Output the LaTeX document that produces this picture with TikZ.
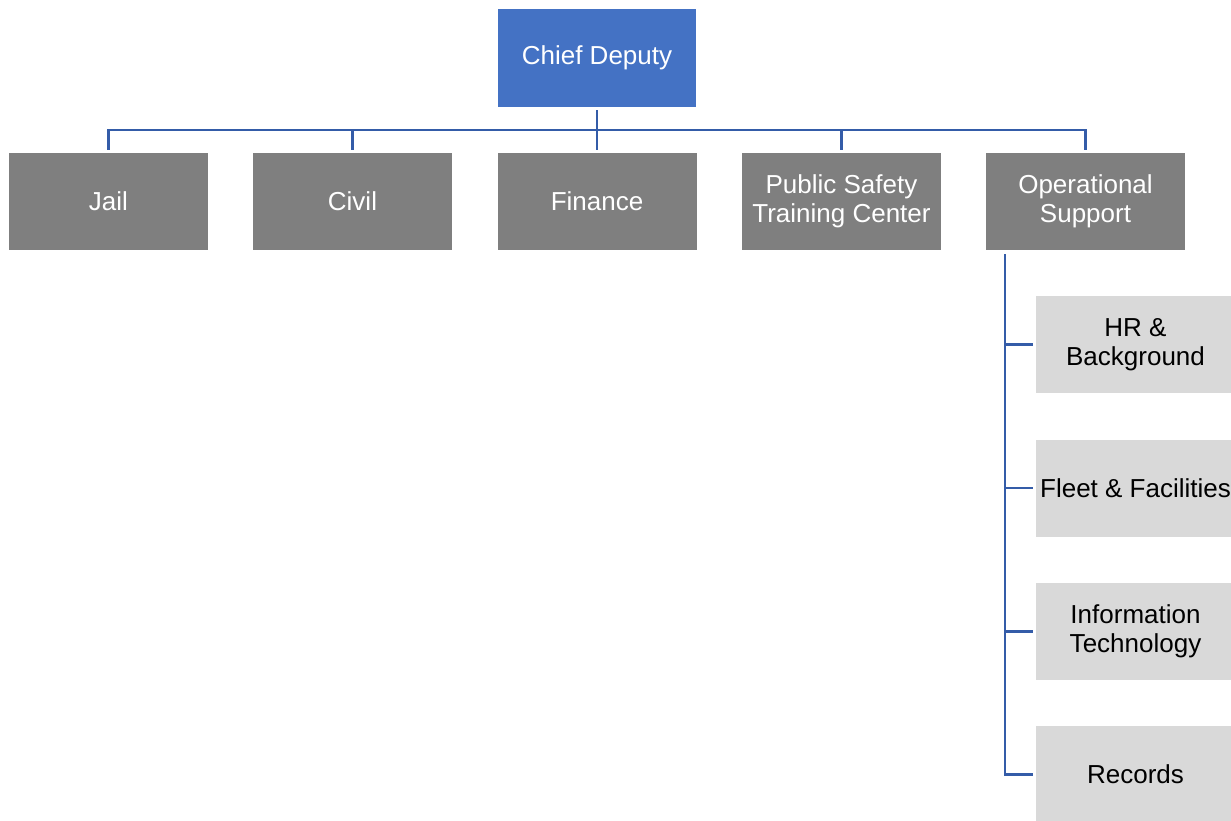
\documentclass[tikz,border=0pt]{standalone}
\usepackage{fontspec}
\setmainfont{Liberation Sans}
\begin{document}
\begin{tikzpicture}[x=1pt,y=1pt,
  box/.style={rectangle, inner sep=0pt, align=center, minimum width=199pt, minimum height=97pt,
    font=\fontsize{26}{29}\selectfont},
  top/.style={box, fill=chiefblue, text=white, minimum width=198pt, minimum height=98pt},
  dept/.style={box, fill=deptgray, text=white},
  unit/.style={box, fill=unitgray, text=black},
  conn/.style={draw=linkblue, line width=2.5pt}]
\definecolor{chiefblue}{RGB}{68,114,196}
\definecolor{deptgray}{RGB}{127,127,127}
\definecolor{unitgray}{RGB}{217,217,217}
\definecolor{linkblue}{RGB}{52,92,168}
\useasboundingbox (0,0) rectangle (1231,-820);
\clip (0,0) rectangle (1231,-820);

% top of the chart
\node[top] (chief) at (597,-58) {Chief Deputy};

% divisions
\node[dept] (jail)  at (108.5,-201.5) {Jail};
\node[dept] (civil) at (352.5,-201.5) {Civil};
\node[dept] (fin)   at (597,-201.5)   {Finance};
\node[dept] (pstc)  at (841.5,-201.5) {Public Safety\\Training Center};
\node[dept] (ops)   at (1085.5,-201.5) {Operational\\Support};

% units under operational support
\node[unit] (hr)    at (1135.5,-344.5) {HR \&\\Background};
\node[unit] (fleet) at (1135.5,-488)   {Fleet \& Facilities};
\node[unit] (it)    at (1135.5,-631.5) {Information\\Technology};
\node[unit] (rec)   at (1135.5,-774.5) {Records};

\coordinate (bar) at (0,-130);
\coordinate (spine) at (1005,0);

% division connectors
\draw[conn, shorten <=3pt, shorten >=3pt] (chief.south) -- (fin.north);
\draw[conn, shorten <=3pt] (jail.north) -- (jail.north |- bar) -| ([yshift=3pt]ops.north);
\foreach \d in {civil,pstc}
  \draw[conn, shorten <=3pt] (\d.north) -- (\d.north |- bar);

% unit connectors
\draw[conn, shorten >=3pt] ([yshift=-4pt]ops.south -| spine) |- (rec.west);
\foreach \u in {hr,fleet,it}
  \draw[conn, shorten >=3pt] (spine |- \u.west) -- (\u.west);
\end{tikzpicture}
\end{document}
